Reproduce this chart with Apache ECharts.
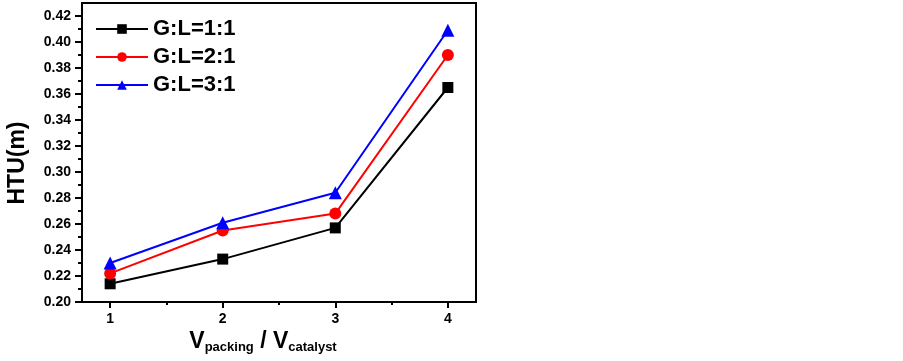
<!DOCTYPE html>
<html>
<head>
<meta charset="utf-8">
<script src="https://cdn.jsdelivr.net/npm/echarts@6/dist/echarts.min.js"></script>
<style>html,body{margin:0;padding:0;background:#fff}#c{width:903px;height:361px}</style>
</head>
<body>
<div id="c"></div>
<script>
var xValues = [1, 2, 3, 4];
var seriesNames = ['G:L=1:1', 'G:L=2:1', 'G:L=3:1'];
var gl11 = [0.214, 0.233, 0.257, 0.365];
var gl21 = [0.222, 0.255, 0.268, 0.390];
var gl31 = [0.230, 0.261, 0.284, 0.409];
var yTicks = [0.20, 0.22, 0.24, 0.26, 0.28, 0.30, 0.32, 0.34, 0.36, 0.38, 0.40, 0.42];
var yMinorTicks = [0.21, 0.23, 0.25, 0.27, 0.29, 0.31, 0.33, 0.35, 0.37, 0.39, 0.41];
var xTicks = [1, 2, 3, 4];
var xMinorTicks = [1.5, 2.5, 3.5];

var colors = ['#000000', '#ff0000', '#0000ff'];
var symbols = ['rect', 'circle', 'triangle'];
var sizes = [11, 12, 13];
var allData = [gl11, gl21, gl31];

function pairs(vals) { return xValues.map(function (x, i) { return [x, vals[i]]; }); }

var font = 'Arial, "Liberation Sans", sans-serif';
var chart = echarts.init(document.getElementById('c'));
chart.setOption({
  animation: false,
  backgroundColor: '#fff',
  grid: { left: 82, right: 427, top: 3, bottom: 59, show: true, borderColor: '#000', borderWidth: 2, backgroundColor: 'transparent' },
  legend: {
    left: 90, top: 13, orient: 'vertical', itemWidth: 52, itemHeight: 12, itemGap: 6,
    data: seriesNames,
    textStyle: { fontFamily: font, fontWeight: 'bold', fontSize: 22, color: '#000' }
  },
  xAxis: [{
    type: 'value', min: 0.75, max: 4.25, position: 'bottom',
    axisLine: { show: true, lineStyle: { color: '#000', width: 2 } },
    axisTick: { show: true, customValues: xTicks, length: 6, lineStyle: { color: '#000', width: 2 } },
    axisLabel: { customValues: xTicks, fontFamily: font, fontWeight: 'bold', fontSize: 14, color: '#000', margin: 10 },
    splitLine: { show: false }
  }, {
    type: 'value', min: 0.75, max: 4.25, position: 'bottom',
    axisLine: { show: false },
    axisTick: { show: true, customValues: xMinorTicks, length: 3, lineStyle: { color: '#000', width: 2 } },
    axisLabel: { show: false },
    splitLine: { show: false }
  }],
  yAxis: [{
    type: 'value', min: 0.20, max: 0.43, position: 'left',
    axisLine: { show: true, lineStyle: { color: '#000', width: 2 } },
    axisTick: { show: true, customValues: yTicks, length: 7, lineStyle: { color: '#000', width: 2 } },
    axisLabel: { customValues: yTicks, formatter: function (v) { return v.toFixed(2); }, fontFamily: font, fontWeight: 'bold', fontSize: 14, color: '#000', margin: 11 },
    splitLine: { show: false }
  }, {
    type: 'value', min: 0.20, max: 0.43, position: 'left',
    axisLine: { show: false },
    axisTick: { show: true, customValues: yMinorTicks, length: 4, lineStyle: { color: '#000', width: 2 } },
    axisLabel: { show: false },
    splitLine: { show: false }
  }],
  graphic: [{
    type: 'text', x: 18, y: 163, rotation: Math.PI / 2,
    style: { text: 'HTU(m)', fontFamily: font, fontWeight: 'bold', fontSize: 23, fill: '#000', align: 'center', verticalAlign: 'middle' }
  }, {
    type: 'text', x: 263, y: 330,
    style: {
      text: '{b|V}{s|packing}{b| / V}{s|catalyst}',
      align: 'center', verticalAlign: 'top',
      rich: {
        b: { fontFamily: font, fontWeight: 'bold', fontSize: 23, lineHeight: 24, verticalAlign: 'top', fill: '#000' },
        s: { fontFamily: font, fontWeight: 'bold', fontSize: 13, lineHeight: 14, verticalAlign: 'bottom', padding: [18, 0, 0, 0], fill: '#000' }
      }
    }
  }],
  series: seriesNames.map(function (n, i) {
    return {
      name: n, type: 'line', xAxisIndex: 0, yAxisIndex: 0,
      data: pairs(allData[i]),
      symbol: symbols[i], symbolSize: sizes[i],
      lineStyle: { color: colors[i], width: 2 },
      itemStyle: { color: colors[i] },
      z: 3 + i
    };
  })
});
</script>
</body>
</html>
